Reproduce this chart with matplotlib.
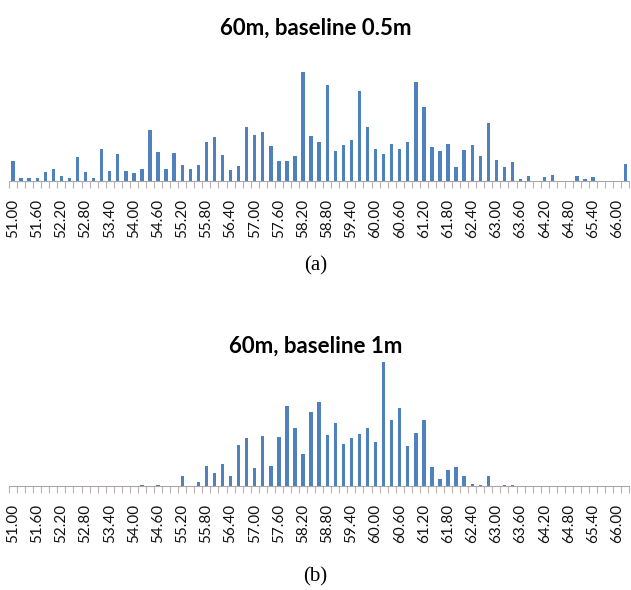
import numpy as np
import matplotlib
matplotlib.use('Agg')
import matplotlib.pyplot as plt

# ---------------- DATA ----------------
# bins 51.00 .. 66.20 step 0.20, heights (relative units)
bins = [round(51.0 + 0.2 * k, 2) for k in range(77)]

freq_05 = [59, 10, 10, 9, 27, 35, 16, 10, 72, 27,
           10, 97, 29, 82, 29, 24, 37, 152, 88, 35,
           84, 47, 35, 47, 117, 132, 77, 34, 44, 162,
           137, 147, 106, 60, 60, 74, 327, 134, 117, 287,
           89, 109, 122, 270, 162, 97, 80, 112, 97, 118,
           296, 222, 102, 89, 112, 42, 93, 108, 74, 174,
           62, 42, 56, 6, 15, 0, 11, 17, 0, 0,
           15, 7, 11, 0, 0, 0, 52]

freq_1 = [0, 0, 0, 0, 0, 0, 0, 0, 0, 0,
          0, 0, 0, 0, 0, 0, 1, 0, 1, 0,
          0, 29, 0, 10, 60, 39, 64, 29, 121, 143,
          52, 149, 58, 145, 240, 174, 94, 222, 252, 153,
          189, 125, 142, 156, 172, 131, 372, 197, 234, 119,
          157, 197, 57, 20, 47, 55, 29, 5, 2, 29,
          0, 1, 1, 0, 0, 0, 0, 0, 0, 0,
          0, 0, 0, 0, 0, 0, 0]

titles = ['60m, baseline 0.5m', '60m, baseline 1m']
captions = ['(a)', '(b)']

# ---------------- PLOT ----------------
bar_col = '#4F81BD'
fig = plt.figure(figsize=(6.31, 5.90), dpi=100)

x = np.arange(len(bins))
tick_idx = x[::3]
tick_lab = ['%.2f' % bins[i] for i in tick_idx]

panels = [(freq_05, 0.693, 28, 266), (freq_1, 0.177, 346, 577)]

for n, (vals, bottom, title_y, cap_y) in enumerate(panels):
    ax = fig.add_axes([0.0143, bottom, 0.983, 0.217])
    ax.bar(x, vals, width=0.42, color=bar_col)
    ax.set_xlim(-0.5, len(bins) - 0.5)
    ax.set_ylim(0, 384)
    for s in ['top', 'left', 'right']:
        ax.spines[s].set_visible(False)
    ax.spines['bottom'].set_color('#a8a8a8')
    ax.set_yticks([])
    ax.set_xticks(tick_idx)
    ax.set_xticklabels(tick_lab, rotation=90, fontsize=11, family='Lato', color='#111111')
    ax.tick_params(axis='x', length=0, pad=13)
    ax.set_xticks(np.arange(-0.5, len(bins)), minor=True)
    ax.tick_params(axis='x', which='minor', length=5, color='#c0b0b0', width=0.8)

    fig.text(0.5, 1 - title_y / 590, titles[n], ha='center', va='center',
             fontsize=16, fontweight='bold', family='Lato')
    fig.text(0.5, 1 - cap_y / 590, captions[n], ha='center', va='center',
             fontsize=15, family='Liberation Serif')

plt.savefig('out.png', dpi=100)
